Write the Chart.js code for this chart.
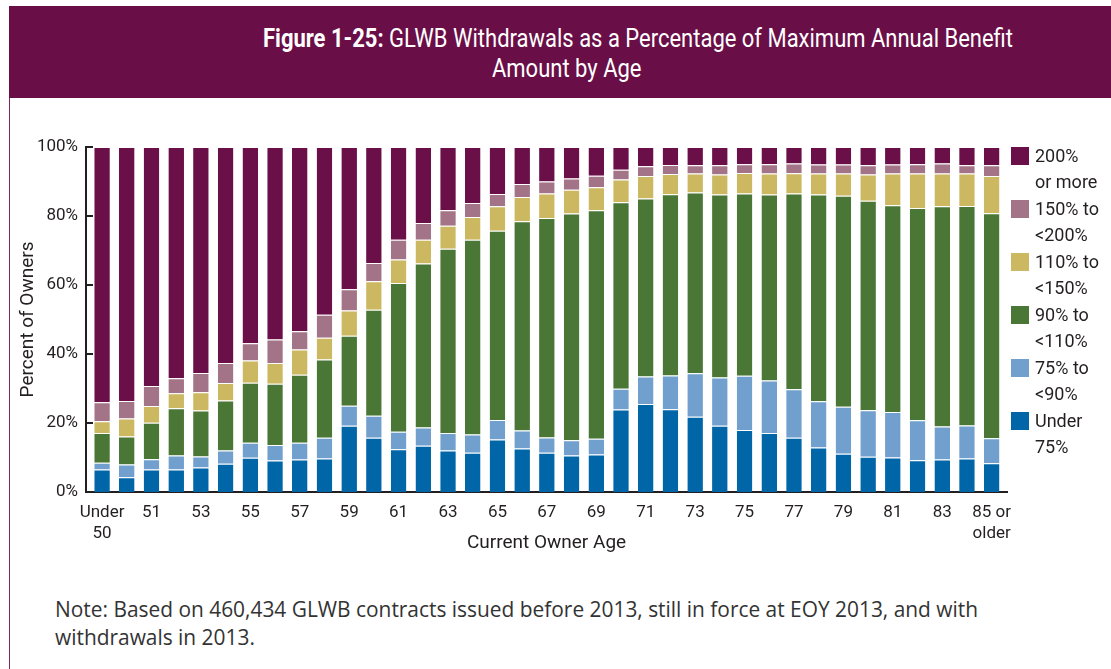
<!DOCTYPE html>
<html>
<head>
<meta charset="utf-8">
<script src="https://cdn.jsdelivr.net/npm/chart.js@4.4.1/dist/chart.umd.min.js"></script>
<style>
  html, body { margin: 0; padding: 0; background: #fff; }
  body { width: 1111px; height: 669px; position: relative; overflow: hidden; font-family: Roboto, "Liberation Sans", sans-serif; }
  #banner { position: absolute; left: 9px; top: 6px; width: 1102px; height: 92px; background: #690e47; }
  .title { position: absolute; color: #fff; font-size: 26px; font-weight: 400; line-height: 30px; white-space: nowrap; transform-origin: 0 50%; }
  .title b { font-weight: 700; }
  #frame { position: absolute; left: 9px; top: 98px; width: 1px; height: 571px; background: #7a2a5c; }
  #chartBox { position: absolute; left: 0; top: 120px; width: 1111px; height: 440px; }
  #legend { position: absolute; left: 1011px; top: 147px; }
  .item { position: absolute; left: 0; width: 100px; }
  .sw { position: absolute; left: 0; top: 0; width: 18px; height: 18px; }
  .lbl { position: absolute; left: 24px; top: -4px; font-size: 18px; line-height: 26px; color: #231f20; white-space: nowrap; }
  #note { position: absolute; left: 55px; top: 595px; font-family: "Open Sans", sans-serif; font-size: 20.9px; line-height: 28px; color: #333; white-space: nowrap; }
</style>
</head>
<body>
<div id="banner"></div>
<div class="title" id="t1" style="top:23px;"><b>Figure 1-25:</b> GLWB Withdrawals as a Percentage of Maximum Annual Benefit</div>
<div class="title" id="t2" style="top:53px;">Amount by Age</div>
<div id="frame"></div>
<div id="chartBox"><canvas id="chart"></canvas></div>
<div id="legend"></div>
<div id="note">Note: Based on 460,434 GLWB contracts issued before 2013, still in force at EOY 2013, and with<br>withdrawals in 2013.</div>
<script>
// Categories
const ages = ['Under 50', '50', '51', '52', '53', '54', '55', '56', '57', '58', '59', '60', '61', '62', '63', '64', '65', '66', '67', '68', '69', '70', '71', '72', '73', '74', '75', '76', '77', '78', '79', '80', '81', '82', '83', '84', '85 or older'];
const tickLabels = {0: ['Under', '50'], 36: ['85 or', 'older']};
const yTicks = [0, 20, 40, 60, 80, 100];

// Series values (% of owners), bottom to top
const under75 = [6.5, 4.3, 6.5, 6.5, 7.1, 8.2, 9.9, 9.1, 9.4, 9.7, 19.2, 15.7, 12.4, 13.4, 12.0, 11.4, 15.2, 12.6, 11.4, 10.6, 10.9, 23.9, 25.5, 24.0, 21.8, 19.2, 18.0, 17.1, 15.7, 12.9, 11.1, 10.2, 10.0, 9.2, 9.4, 9.7, 8.3];
const from75to90 = [2.0, 3.7, 3.0, 4.1, 3.2, 3.8, 4.4, 4.5, 4.9, 6.0, 5.8, 6.4, 5.1, 5.3, 5.1, 5.3, 5.7, 5.2, 4.4, 4.4, 4.5, 6.0, 8.0, 9.8, 12.6, 14.0, 15.7, 15.2, 14.1, 13.4, 13.6, 13.5, 13.2, 11.6, 9.6, 9.6, 7.3];
const from90to110 = [8.6, 8.1, 10.6, 13.7, 13.3, 14.5, 17.4, 17.8, 19.7, 22.7, 20.3, 30.7, 43.1, 47.5, 53.4, 56.4, 54.8, 60.7, 63.6, 65.7, 66.3, 54.1, 51.6, 52.5, 52.4, 53.0, 52.8, 53.9, 56.7, 59.9, 61.2, 60.7, 59.9, 61.5, 63.8, 63.6, 65.2];
const from110to150 = [3.4, 5.2, 4.8, 4.3, 5.3, 5.1, 6.4, 6.0, 7.3, 6.3, 7.3, 8.3, 6.8, 6.9, 6.7, 6.6, 7.1, 7.0, 7.1, 6.9, 6.6, 6.6, 6.5, 5.9, 5.5, 5.8, 6.0, 6.1, 5.9, 6.1, 6.4, 7.6, 9.2, 10.0, 9.5, 9.4, 10.8];
const from150to200 = [5.5, 5.1, 5.8, 4.4, 5.6, 5.8, 5.0, 6.8, 5.3, 6.7, 6.2, 5.3, 5.7, 4.9, 4.5, 4.1, 3.6, 3.8, 3.5, 3.3, 3.4, 2.8, 2.8, 2.6, 2.4, 2.7, 2.5, 2.7, 2.8, 2.6, 2.6, 2.7, 2.6, 2.7, 2.9, 2.4, 3.1];
const over200 = [74.0, 73.6, 69.3, 67.0, 65.5, 62.6, 56.9, 55.8, 53.4, 48.6, 41.2, 33.6, 26.9, 22.0, 18.3, 16.2, 13.6, 10.7, 10.0, 9.1, 8.3, 6.6, 5.6, 5.2, 5.3, 5.3, 5.0, 5.0, 4.8, 5.1, 5.1, 5.3, 5.1, 5.0, 4.8, 5.3, 5.3];

const seriesNames = [['Under', '75%'], ['75% to', '<90%'], ['90% to', '<110%'], ['110% to', '<150%'], ['150% to', '<200%'], ['200%', 'or more']];
const seriesColors = ['#0066a8', '#72a0ce', '#4a7736', '#cdb862', '#a37487', '#6a0f48'];
const seriesValues = [under75, from75to90, from90to110, from110to150, from150to200, over200];

Chart.defaults.font.family = 'Roboto, "Liberation Sans", sans-serif';
Chart.defaults.color = '#231f20';

const datasets = seriesValues.map((vals, s) => ({
    label: seriesNames[s].join(' '),
    data: vals.map((v, i) => ({x: i, y: v})),
    backgroundColor: seriesColors[s],
    borderColor: 'rgba(255,255,255,0.9)',
    borderWidth: {top: 1, left: 0, right: 0, bottom: 0},
    borderSkipped: false,
    barPercentage: 0.63,
    categoryPercentage: 1
}));

// short ticks pointing into the plot from the y axis
const innerTicks = {
    id: 'innerTicks',
    afterDatasetsDraw(chart) {
        const y = chart.scales.y, ctx = chart.ctx, left = chart.chartArea.left;
        ctx.save();
        ctx.strokeStyle = '#231f20';
        ctx.lineWidth = 2;
        yTicks.forEach(v => {
            const py = y.getPixelForValue(v);
            ctx.beginPath();
            ctx.moveTo(left, py);
            ctx.lineTo(left + 7, py);
            ctx.stroke();
        });
        ctx.restore();
    }
};

new Chart(document.getElementById('chart'), {
    type: 'bar',
    data: { datasets },
    plugins: [innerTicks],
    options: {
        responsive: true,
        maintainAspectRatio: false,
        animation: false,
        layout: { padding: { left: 0, right: 104, top: 27, bottom: 0 } },
        plugins: { legend: { display: false }, tooltip: { enabled: false } },
        scales: {
            x: {
                type: 'linear',
                stacked: true,
                offset: false,
                min: -0.65,
                max: 36.62,
                afterBuildTicks: scale => {
                    scale.ticks = ages.map((a, i) => ({value: i})).filter(t => t.value % 2 === 0);
                },
                afterFit: scale => {
                    scale.height = 68;
                    scale.paddingLeft = 0;
                    scale.paddingRight = 0;
                },
                grid: { display: false, drawTicks: false },
                border: { display: true, color: '#231f20', width: 2 },
                ticks: {
                    autoSkip: false,
                    maxRotation: 0,
                    padding: 11,
                    font: { size: 17 },
                    color: '#231f20',
                    callback: v => tickLabels[v] || ages[v]
                },
                title: { display: true, text: 'Current Owner Age', font: { size: 19 }, color: '#231f20', padding: { top: 0, bottom: 5 } }
            },
            y: {
                stacked: true,
                min: 0,
                max: 100,
                afterBuildTicks: scale => { scale.ticks = yTicks.map(v => ({value: v})); },
                afterFit: scale => { scale.width = 86; },
                grid: { display: false, drawTicks: false },
                border: { display: true, color: '#231f20', width: 2 },
                ticks: { padding: 8, font: { size: 17 }, color: '#231f20', callback: v => v + '%' },
                title: { display: true, text: 'Percent of Owners', font: { size: 19 }, color: '#231f20', padding: { top: 17, bottom: 0 } }
            }
        }
    }
});

// legend, top item = top of stack
const legend = document.getElementById('legend');
legend.innerHTML = seriesNames.map((n, s) => s).reverse().map((s, k) => `
    <div class="item" style="top:${k * 53}px">
        <div class="sw" style="background:${seriesColors[s]}"></div>
        <div class="lbl">${seriesNames[s][0]}<br>${seriesNames[s][1]}</div>
    </div>`).join('');

// squeeze the heading to the width it takes in the figure; second line uses the same squeeze
const t1 = document.getElementById('t1'), t2 = document.getElementById('t2');
const squeeze = 750 / t1.getBoundingClientRect().width;
t1.style.left = '263px';
t1.style.transform = `scaleX(${squeeze})`;
const w2 = t2.getBoundingClientRect().width * squeeze;
t2.style.left = (567 - w2 / 2) + 'px';
t2.style.transform = `scaleX(${squeeze})`;
</script>
</body>
</html>
